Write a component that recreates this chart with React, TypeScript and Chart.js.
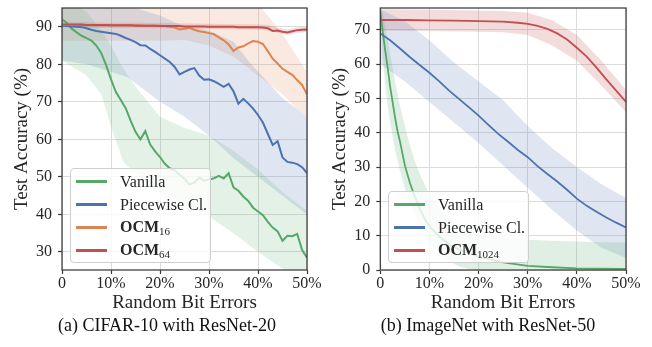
import React, { useEffect, useRef } from 'react';
import { Chart, registerables } from 'chart.js';

Chart.register(...registerables);

const SERIF = '"Liberation Serif", "Times New Roman", serif';
const TEXT = '#262626';

const GREEN = '#55a868';
const BLUE = '#4c72b0';
const ORANGE = '#dd8452';
const RED = '#c44e52';

// ---------- shared axis ticks ----------
const X_TICKS = [0, 10, 20, 30, 40, 50];
const X_LABELS = ['0', '10%', '20%', '30%', '40%', '50%'];
const LEFT_Y_TICKS = [30, 40, 50, 60, 70, 80, 90];
const RIGHT_Y_TICKS = [0, 10, 20, 30, 40, 50, 60, 70];

// ---------- (a) CIFAR-10 with ResNet-20 ----------
const L_X = [0, 1, 2, 3, 4, 5, 6, 7, 8, 9, 10, 11, 12, 13, 14, 15, 16, 17, 18, 19, 20, 21, 22, 23, 24, 25,
  26, 27, 28, 29, 30, 31, 32, 33, 34, 35, 36, 37, 38, 39, 40, 41, 42, 43, 44, 45, 46, 47, 48, 49, 50];
const L_VANILLA = [92, 91, 89.5, 88.5, 87.6, 87, 86.3, 85, 83, 79.8, 76, 72.6, 70.5, 68.3, 65, 62, 60, 62.2, 58.6, 56.8,
  55.3, 53.5, 52.3, 51.8, 50.6, 49.5, 48, 48.5, 49.8, 49, 49.3, 49.6, 50.3, 49.6, 51, 47.2, 46.3, 44.8, 43.6, 41.8,
  40.8, 39.8, 38, 36.5, 35.5, 33, 34.3, 34.2, 34.8, 30.5, 28.5];
const L_PIECEWISE = [90.3, 90.2, 90.1, 90, 89.9, 89.6, 89.2, 88.9, 88.7, 88.5, 88.3, 88.1, 87.6, 87, 86.5, 85.9, 85.1, 85,
  84.1, 83.3, 82.4, 81.5, 80.6, 79.3, 77.3, 78, 78.6, 79, 77, 75.9, 76, 75.5, 74.8, 74, 74.8, 72.8, 69.5, 70.8, 69.6,
  68.2, 66.5, 64.5, 61.5, 58.5, 59.5, 55.2, 54, 53.8, 53.4, 52.6, 51];
const L_OCM16 = [90.5, 90.5, 90.5, 90.5, 90.5, 90.5, 90.5, 90.4, 90.4, 90.4, 90.4, 90.4, 90.4, 90.4, 90.4, 90.4, 90.4,
  90.3, 90.3, 90.3, 90.3, 90.2, 90, 89.8, 89.3, 89.5, 89.7, 89.2, 88.8, 88.6, 88.3, 88, 87.2, 86.4, 85.3, 83.5, 84.5,
  84.8, 85.6, 86.2, 86, 85.4, 83.5, 81.5, 80.2, 78.8, 78, 77.2, 75.8, 74.5, 72];
const L_OCM64 = [90.6, 90.6, 90.6, 90.6, 90.6, 90.5, 90.5, 90.5, 90.5, 90.5, 90.4, 90.4, 90.4, 90.4, 90.4, 90.3, 90.3,
  90.3, 90.3, 90.3, 90.2, 90.2, 90.2, 90.2, 90.2, 90.1, 90.1, 90.1, 90.1, 90.1, 90, 90, 90, 90, 90, 90, 89.9, 89.9,
  89.9, 89.9, 89.9, 89.8, 89.6, 88.9, 89, 88.7, 88.5, 88.8, 89.1, 89.2, 89.3];

const L_VAN_UP_X = [0, 5, 8, 10, 12, 15, 20, 25, 30, 35, 40, 45, 50];
const L_VAN_UP = [97, 94, 89, 85, 80, 74, 66, 63, 61, 57, 52, 46, 41];
const L_VAN_LO_X = [0, 5, 8, 10, 12.5, 15, 20, 25, 30, 35, 40, 45, 50];
const L_VAN_LO = [81, 77, 72, 63.5, 54, 51, 46, 43, 39.5, 35, 30, 25.5, 22];

const L_PW_UP_X = [0, 10, 15, 20, 25, 30, 35, 38, 40, 45, 50];
const L_PW_UP = [97, 96, 95, 93, 90, 89, 86, 81, 78, 71, 66];
const L_PW_LO_X = [0, 5, 10, 13.5, 20, 25, 30, 35, 40, 45, 50];
const L_PW_LO = [81, 80, 78, 76.5, 70, 66, 61, 55, 50, 45, 40];

const L_O16_X = [0, 20, 25, 30, 35, 37, 40, 42, 45, 48, 50];
const L_O16_UP = [97, 97, 97, 97, 97, 97, 96, 93, 88, 82, 78];
const L_O16_LO = [86.3, 86.3, 86.5, 85, 82, 80, 77, 75, 72, 68, 66];

const L_O64_X = [0, 10, 20, 30, 40, 42, 44, 46, 48, 50];
const L_O64_UP = [91.3, 91.1, 91, 90.8, 90.6, 90.5, 89.8, 89.3, 89.8, 90];
const L_O64_LO = [89.9, 89.7, 89.6, 89.4, 89.2, 89.1, 88.4, 87.9, 88.4, 88.6];

// ---------- (b) ImageNet with ResNet-50 ----------
const R_VAN_X = [0, 0.5, 1, 1.5, 2, 2.5, 3, 3.5, 4, 5, 6, 7, 8, 9, 10, 12, 14, 16, 18, 20, 22, 25, 30, 35, 40, 45, 50];
const R_VANILLA = [75.5, 69.5, 64, 59, 53.5, 49, 44.5, 40.5, 37.5, 30.5, 25.5, 21.5, 18, 15, 12.7, 9.7, 7.6, 6, 4.9, 4,
  3.2, 2.2, 1.2, 0.8, 0.5, 0.4, 0.3];
const R_VAN_UP = [77, 75, 71, 67, 63, 59, 55, 51.5, 48, 42, 36.5, 32, 28, 25, 22, 18, 15, 13, 11.5, 10.5, 10, 9.3, 8.8,
  8.5, 8.3, 8.1, 8];
const R_VAN_LO = [74, 62, 54, 48, 43, 39, 35, 32, 29, 24, 19.5, 16, 13, 10.5, 8.3, 5, 2.5, 1, 0.3, 0, 0, 0, 0, 0, 0, 0, 0];

const R_PW_X = [0, 2, 4, 6, 8, 10, 12, 14, 16, 18, 20, 22, 24, 26, 28, 30, 32, 34, 36, 38, 40, 42, 44, 46, 48, 50];
const R_PIECEWISE = [69, 67, 64.6, 62.1, 59.8, 57.5, 55, 52.3, 49.9, 47.5, 45, 42.3, 39.7, 37.4, 35, 32.9, 30.3, 28,
  25.8, 23.4, 20.8, 18.7, 17, 15.3, 13.8, 12.4];
const R_PW_BAND_X = [0, 5, 10, 15, 20, 25, 30, 35, 40, 45, 50];
const R_PW_UP = [76, 72.5, 67, 60.5, 55, 49.5, 42, 35.5, 30, 25, 21];
const R_PW_LO = [60, 55, 49, 43, 37, 30.5, 24, 17.5, 11.5, 6.5, 3.5];

const R_O1024_X = [0, 5, 10, 15, 20, 25, 28, 30, 32, 34, 36, 38, 40, 42, 44, 46, 48, 50];
const R_OCM1024 = [72.9, 72.9, 72.8, 72.7, 72.6, 72.4, 72.1, 71.8, 71.2, 70.3, 69, 67.2, 64.8, 62.2, 59, 55.6, 52.3, 49];
const R_O1024_BAND_X = [0, 10, 20, 25, 30, 35, 40, 45, 50];
const R_O1024_UP = [76, 75.9, 75.7, 75.5, 75, 72.8, 68.5, 61, 52.5];
const R_O1024_LO = [69.8, 69.7, 69.5, 69.3, 68.5, 65.5, 61, 53.8, 46];

// ---------- helpers ----------
const pts = (xs: number[], ys: number[]) => xs.map((x, i) => ({ x, y: ys[i] }));

function rgba(hex: string, a: number) {
  const n = parseInt(hex.slice(1), 16);
  return `rgba(${(n >> 16) & 255},${(n >> 8) & 255},${n & 255},${a})`;
}

function lineDs(xs: number[], ys: number[], color: string, order: number, width = 2) {
  return {
    data: pts(xs, ys),
    borderColor: color,
    backgroundColor: color,
    borderWidth: width,
    pointRadius: 0,
    tension: 0,
    fill: false,
    order,
  };
}

function bandDs(upX: number[], up: number[], loX: number[], lo: number[], color: string, alpha: number) {
  return [
    {
      data: pts(upX, up),
      borderColor: 'rgba(0,0,0,0)',
      backgroundColor: rgba(color, alpha),
      borderWidth: 0,
      pointRadius: 0,
      tension: 0,
      fill: '+1',
      order: 20,
    },
    {
      data: pts(loX, lo),
      borderColor: 'rgba(0,0,0,0)',
      backgroundColor: 'rgba(0,0,0,0)',
      borderWidth: 0,
      pointRadius: 0,
      tension: 0,
      fill: false,
      order: 20,
    },
  ];
}

const spinePlugin = {
  id: 'spines',
  afterDatasetsDraw(chart: any) {
    const { ctx, chartArea: a } = chart;
    ctx.save();
    ctx.strokeStyle = '#3a3a3a';
    ctx.lineWidth = 1.25;
    ctx.strokeRect(a.left, a.top, a.right - a.left, a.bottom - a.top);
    ctx.restore();
  },
};

function makeConfig(datasets: any[], yMin: number, yMax: number, yTicks: number[], padRight: number, yWidth: number) {
  const grid = {
    color: '#dcdcdc',
    lineWidth: 1,
    tickLength: 4,
    tickColor: '#3a3a3a',
    tickWidth: 1.2,
  };
  return {
    type: 'line',
    data: { datasets },
    options: {
      animation: false,
      responsive: false,
      maintainAspectRatio: false,
      layout: { padding: { top: 8, right: padRight, bottom: 0, left: 0 } },
      plugins: { legend: { display: false }, tooltip: { enabled: false } },
      scales: {
        x: {
          type: 'linear',
          min: 0,
          max: 50,
          afterBuildTicks: (s: any) => {
            s.ticks = X_TICKS.map((v) => ({ value: v }));
          },
          afterFit: (s: any) => {
            s.height = 46;
            s.paddingLeft = 0;
            s.paddingRight = 0;
            s.paddingTop = 0;
            s.paddingBottom = 0;
          },
          ticks: {
            autoSkip: false,
            maxRotation: 0,
            padding: 0,
            color: TEXT,
            font: { family: SERIF, size: 16 },
            callback: (v: any) => X_LABELS[X_TICKS.indexOf(Number(v))],
          },
          grid,
          border: { display: false },
          title: {
            display: true,
            text: 'Random Bit Errors',
            color: TEXT,
            font: { family: SERIF, size: 19 },
            padding: { top: 0, bottom: 2 },
          },
        },
        y: {
          type: 'linear',
          min: yMin,
          max: yMax,
          afterBuildTicks: (s: any) => {
            s.ticks = yTicks.map((v) => ({ value: v }));
          },
          afterFit: (s: any) => {
            s.width = yWidth;
            s.paddingLeft = 0;
            s.paddingRight = 0;
            s.paddingTop = 0;
            s.paddingBottom = 0;
          },
          ticks: {
            padding: 6,
            color: TEXT,
            font: { family: SERIF, size: 16 },
          },
          grid,
          border: { display: false },
          title: {
            display: true,
            text: 'Test Accuracy (%)',
            color: TEXT,
            font: { family: SERIF, size: 19 },
            padding: { top: 10.6, bottom: 0 },
          },
        },
      },
    },
    plugins: [spinePlugin],
  };
}

function leftDatasets() {
  return [
    lineDs(L_X, L_OCM64, RED, 1),
    lineDs(L_X, L_OCM16, ORANGE, 2),
    lineDs(L_X, L_PIECEWISE, BLUE, 3),
    lineDs(L_X, L_VANILLA, GREEN, 4),
    ...bandDs(L_VAN_UP_X, L_VAN_UP, L_VAN_LO_X, L_VAN_LO, GREEN, 0.16),
    ...bandDs(L_PW_UP_X, L_PW_UP, L_PW_LO_X, L_PW_LO, BLUE, 0.18),
    ...bandDs(L_O16_X, L_O16_UP, L_O16_X, L_O16_LO, ORANGE, 0.18),
    ...bandDs(L_O64_X, L_O64_UP, L_O64_X, L_O64_LO, RED, 0.2),
  ];
}

function rightDatasets() {
  return [
    lineDs(R_O1024_X, R_OCM1024, RED, 1, 1.8),
    lineDs(R_PW_X, R_PIECEWISE, BLUE, 2, 1.8),
    lineDs(R_VAN_X, R_VANILLA, GREEN, 3, 1.8),
    ...bandDs(R_VAN_X, R_VAN_UP, R_VAN_X, R_VAN_LO, GREEN, 0.18),
    ...bandDs(R_PW_BAND_X, R_PW_UP, R_PW_BAND_X, R_PW_LO, BLUE, 0.18),
    ...bandDs(R_O1024_BAND_X, R_O1024_UP, R_O1024_BAND_X, R_O1024_LO, RED, 0.2),
  ];
}

type Entry = { label: React.ReactNode; color: string };

function Legend({ left, top, width, height, entries }: { left: number; top: number; width: number; height: number; entries: Entry[] }) {
  return (
    <div
      style={{
        position: 'absolute',
        left,
        top,
        width,
        height,
        boxSizing: 'border-box',
        background: 'rgba(255,255,255,0.8)',
        border: '1px solid #cfcfcf',
        borderRadius: 4,
      }}
    >
      {entries.map((e, i) => (
        <div
          key={i}
          style={{
            position: 'absolute',
            left: 0,
            top: 3 + i * 23 - 0.5,
            height: 20,
            display: 'flex',
            alignItems: 'center',
            whiteSpace: 'nowrap',
          }}
        >
          <div style={{ marginLeft: 5, width: 31, height: 2.2, background: e.color }} />
          <div style={{ marginLeft: 13, fontFamily: SERIF, fontSize: 16, color: TEXT, lineHeight: '20px' }}>{e.label}</div>
        </div>
      ))}
    </div>
  );
}

const ocm = (n: string) => (
  <span>
    <b>OCM</b>
    <span style={{ fontSize: 11, position: 'relative', top: 3 }}>{n}</span>
  </span>
);

export default function App() {
  const leftRef = useRef<HTMLCanvasElement>(null);
  const rightRef = useRef<HTMLCanvasElement>(null);

  useEffect(() => {
    document.body.style.margin = '0';
    const c1 = new Chart(leftRef.current as HTMLCanvasElement, makeConfig(leftDatasets(), 25.2, 95, LEFT_Y_TICKS, 23, 62) as any);
    const c2 = new Chart(rightRef.current as HTMLCanvasElement, makeConfig(rightDatasets(), 0, 76.4, RIGHT_Y_TICKS, 26, 62.3) as any);
    return () => {
      c1.destroy();
      c2.destroy();
    };
  }, []);

  return (
    <div style={{ position: 'relative', width: 652, height: 347, background: '#fff', overflow: 'hidden' }}>
      <canvas ref={leftRef} width={330} height={316} style={{ position: 'absolute', left: 0, top: 0 }} />
      <canvas ref={rightRef} width={334} height={316} style={{ position: 'absolute', left: 318, top: 0 }} />
      <Legend
        left={70}
        top={168}
        width={141}
        height={95}
        entries={[
          { label: 'Vanilla', color: GREEN },
          { label: 'Piecewise Cl.', color: BLUE },
          { label: ocm('16'), color: ORANGE },
          { label: ocm('64'), color: RED },
        ]}
      />
      <Legend
        left={388}
        top={191}
        width={141}
        height={72}
        entries={[
          { label: 'Vanilla', color: GREEN },
          { label: 'Piecewise Cl.', color: BLUE },
          { label: ocm('1024'), color: RED },
        ]}
      />
      <div style={{ position: 'absolute', left: 17, top: 314, width: 300, textAlign: 'center', fontFamily: SERIF, fontSize: 18, color: '#111', lineHeight: '22px' }}>
        (a) CIFAR-10 with ResNet-20
      </div>
      <div style={{ position: 'absolute', left: 338, top: 314, width: 300, textAlign: 'center', fontFamily: SERIF, fontSize: 18, color: '#111', lineHeight: '22px' }}>
        (b) ImageNet with ResNet-50
      </div>
    </div>
  );
}
